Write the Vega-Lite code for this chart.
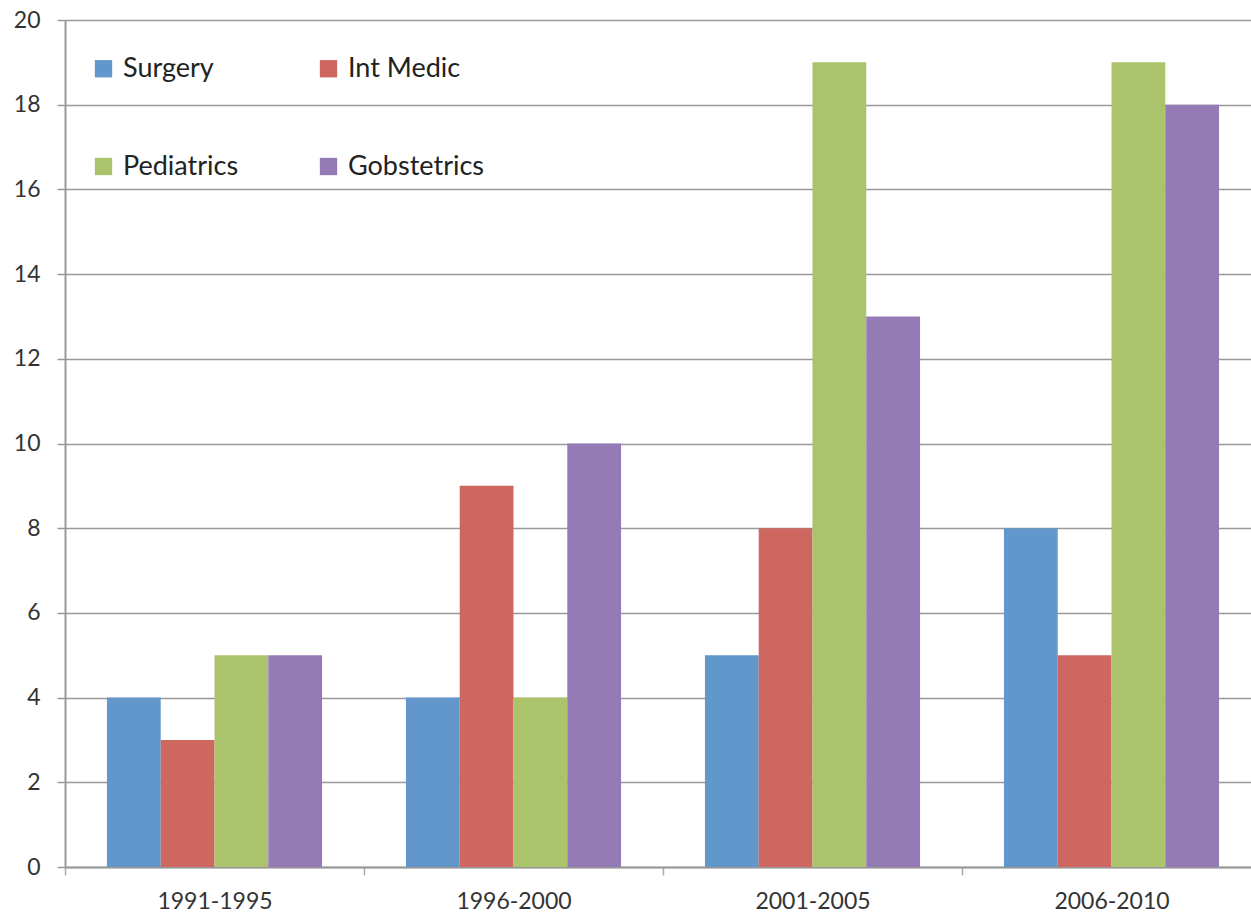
{
  "$schema": "https://vega.github.io/schema/vega-lite/v6.json",
  "width": 1186,
  "height": 847,
  "autosize": {"type": "none"},
  "padding": {"left": 65, "top": 20, "right": 0, "bottom": 47},
  "background": "white",
  "config": {"view": {"stroke": null}, "font": "Lato"},
  "data": {"values": [
    {"period": "1991-1995", "specialty": "Surgery", "count": 4},
    {"period": "1991-1995", "specialty": "Int Medic", "count": 3},
    {"period": "1991-1995", "specialty": "Pediatrics", "count": 5},
    {"period": "1991-1995", "specialty": "Gobstetrics", "count": 5},
    {"period": "1996-2000", "specialty": "Surgery", "count": 4},
    {"period": "1996-2000", "specialty": "Int Medic", "count": 9},
    {"period": "1996-2000", "specialty": "Pediatrics", "count": 4},
    {"period": "1996-2000", "specialty": "Gobstetrics", "count": 10},
    {"period": "2001-2005", "specialty": "Surgery", "count": 5},
    {"period": "2001-2005", "specialty": "Int Medic", "count": 8},
    {"period": "2001-2005", "specialty": "Pediatrics", "count": 19},
    {"period": "2001-2005", "specialty": "Gobstetrics", "count": 13},
    {"period": "2006-2010", "specialty": "Surgery", "count": 8},
    {"period": "2006-2010", "specialty": "Int Medic", "count": 5},
    {"period": "2006-2010", "specialty": "Pediatrics", "count": 19},
    {"period": "2006-2010", "specialty": "Gobstetrics", "count": 18}
  ]},
  "mark": {"type": "bar", "clip": false},
  "encoding": {
    "x": {
      "field": "period", "type": "nominal", "sort": null,
      "scale": {"range": [0, 1196], "paddingInner": 0, "paddingOuter": 0},
      "axis": {
        "title": null, "labelAngle": 0, "labelFontSize": 23, "labelColor": "#333333",
        "labelPadding": 15, "tickBand": "extent", "tickSize": 8, "tickColor": "#aaaaaa",
        "tickWidth": 1.5, "domainColor": "#999999", "domainWidth": 2, "grid": false
      }
    },
    "y": {
      "field": "count", "type": "quantitative",
      "scale": {"domain": [0, 20], "nice": false},
      "axis": {
        "title": null, "values": [0, 2, 4, 6, 8, 10, 12, 14, 16, 18, 20],
        "labelFontSize": 23, "labelColor": "#333333", "labelPadding": 17,
        "tickSize": 8, "tickColor": "#999999", "tickWidth": 1.5,
        "domainColor": "#999999", "domainWidth": 2,
        "grid": true, "gridColor": "#999999", "gridWidth": 1.5
      }
    },
    "xOffset": {"field": "specialty", "type": "nominal", "sort": ["Surgery", "Int Medic", "Pediatrics", "Gobstetrics"], "scale": {"paddingInner": 0, "paddingOuter": 0.78}},
    "color": {
      "field": "specialty", "type": "nominal",
      "sort": ["Surgery", "Int Medic", "Pediatrics", "Gobstetrics"],
      "scale": {"domain": ["Surgery", "Int Medic", "Pediatrics", "Gobstetrics"], "range": ["#6197cb", "#cd6760", "#abc46c", "#957bb5"]},
      "legend": {
        "title": null, "orient": "none", "legendX": 25, "legendY": 35,
        "columns": 2, "direction": "horizontal", "padding": 0,
        "rowPadding": 70, "columnPadding": 76,
        "symbolType": "square", "symbolSize": 300, "symbolStrokeWidth": 0,
        "symbolOffset": 0, "labelOffset": 6,
        "labelFontSize": 27, "labelColor": "#222222", "labelLimit": 400
      }
    }
  }
}
